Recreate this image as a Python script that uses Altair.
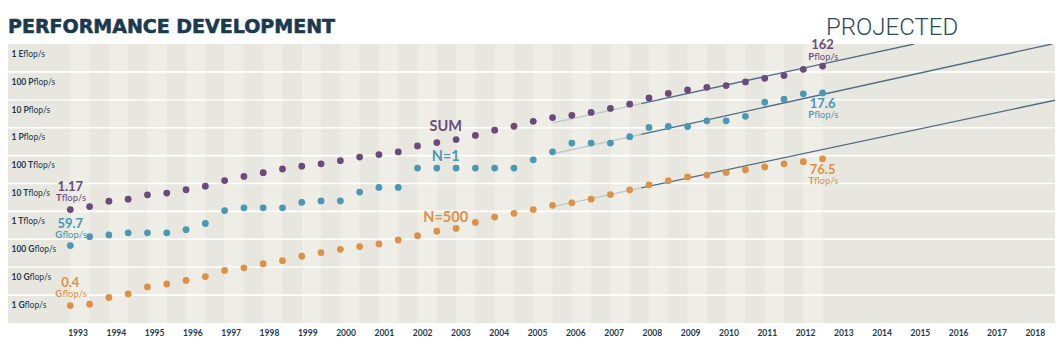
import math
import altair as alt
import pandas as pd

# ---------------- data (Gflop/s) ----------------
years = list(range(1993, 2013))
list_dates = [f"{y}-{m}" for y in years for m in ("06", "11")]

sum_gflops = [1167, 1493, 2317, 2732, 3936, 4554, 5973, 7996, 12770, 17910,
              24350, 33050, 41860, 50680, 65900, 88820, 108400, 134900, 222200, 293300,
              375200, 528400, 813100, 1127000, 1690000, 2300000, 2790000, 3530000, 4920000, 6970000,
              11700000, 16950000, 22600000, 27950000, 32430000, 43670000, 58880000, 74150000, 123400000, 162000000]
n1_gflops = [59.7, 124.5, 143.4, 170.4, 170.4, 170.4, 220.4, 368.2, 1068, 1338,
             1338, 1338, 2121, 2379, 2379, 4938, 7226, 7226, 35860, 35860,
             35860, 35860, 35860, 35860, 70720, 136800, 280600, 280600, 280600, 478200,
             1026000, 1105000, 1105000, 1759000, 1759000, 2566000, 8162000, 10510000, 16320000, 17590000]
n500_gflops = [0.42, 0.47, 0.82, 1.1, 1.96, 2.5, 3.35, 4.6, 7.67, 9.5,
               13.4, 17.1, 24.7, 33.1, 43.8, 55.1, 67.8, 94.3, 134.3, 195.8,
               245.1, 403.4, 624, 851, 1166, 1646, 2026, 2737, 4005, 5929,
               9000, 12640, 17090, 20050, 24670, 31120, 39090, 50940, 60820, 76500]

series_names = ["SUM", "N=1", "N=500"]
series_colors = ["#6b4a7b", "#4a98b4", "#dd9147"]

grid_values = [1, 10, 100, 1e3, 1e4, 1e5, 1e6, 1e7, 1e8]
axis_label_values = [1e9, 1e8, 1e7, 1e6, 1e5, 1e4, 1e3, 100, 10, 1]
axis_label_prefix = ["1 E", "100 P", "10 P", "1 P", "100 T", "10 T", "1 T", "100 G", "10 G", "1 G"]
axis_label_suffix = "flop/s"
year_labels = list(range(1993, 2019))

# projection lines: position in years, Gflop/s
proj_start_t = [2005.8, 2005.8, 2005.8]
proj_start_v = [1.48e6, 1.16e5, 1472]
proj_end_t = [2015.17, 2018.75, 2018.824]
proj_end_v = [1e9, 1e9, 9.66e6]
proj_break_t = 2008.1

# series name labels (annotation anchors)
name_t = [2003.03, 2003.03, 2003.03]
name_v = [1.09e6, 9.16e4, 594]

first_num = ["1.17", "59.7", "0.4"]
first_unit = ["Tflop/s", "Gflop/s", "Gflop/s"]
last_num = ["162", "17.6", "76.5"]
last_unit = ["Pflop/s", "Pflop/s", "Tflop/s"]

# ---------------- styling ----------------
NAVY = "#1a3a50"
BG_DARK = "#e7e7df"
BG_LIGHT = "#eeede6"
W, H = 1047, 279

def pos(d):
    y, m = d.split("-")
    return int(y) + (0.3 if m == "06" else 0.8)

LATO_REG = {'f': 0.30, 'l': 0.24, 'o': 0.56, 'p': 0.555, '/': 0.36, 's': 0.415}
LATO_BOLD = {' ': 0.193, 'E': 0.55, 'P': 0.6, 'T': 0.56, 'G': 0.72}
for c in "0123456789":
    LATO_BOLD[c] = 0.58

def tw(s, size, bold):
    tab = LATO_BOLD if bold else LATO_REG
    return sum(tab.get(c, 0.55) for c in s) * size

xscale = alt.Scale(domain=[1991.685, 2018.824], nice=False, zero=False)
yscale = alt.Scale(type="log", domain=[0.1, 1e9], nice=False)
cscale = alt.Scale(domain=series_names, range=series_colors)

ts = [pos(d) for d in list_dates]
rows = []
for name, vals in zip(series_names, [sum_gflops, n1_gflops, n500_gflops]):
    for t, v in zip(ts, vals):
        rows.append({"t": t, "v": v, "series": name})
df = pd.DataFrame(rows)

june = [pos(d) for d in list_dates if d.endswith("06")]
nov = [pos(d) for d in list_dates if d.endswith("11")]
stripes = pd.DataFrame({"t0": june, "t1": nov})

layers = []
layers.append(alt.Chart(stripes).mark_rect(color=BG_LIGHT).encode(
    x=alt.X("t0:Q", scale=xscale, axis=None), x2="t1:Q",
    y=alt.value(0), y2=alt.value(H)))

layers.append(alt.Chart(pd.DataFrame({"v": grid_values})).mark_rule(color="white", strokeWidth=1.6).encode(
    y=alt.Y("v:Q", scale=yscale, axis=None), x=alt.value(0), x2=alt.value(W)))

# projection lines
light_rows, dark_rows = [], []
for i, name in enumerate(series_names):
    t0, v0, t1, v1 = proj_start_t[i], proj_start_v[i], proj_end_t[i], proj_end_v[i]
    lb = math.log10(v0) + (math.log10(v1) - math.log10(v0)) * (proj_break_t - t0) / (t1 - t0)
    vb = 10 ** lb
    light_rows += [{"t": t0, "v": v0, "series": name}, {"t": proj_break_t, "v": vb, "series": name}]
    dark_rows += [{"t": proj_break_t, "v": vb, "series": name}, {"t": t1, "v": v1, "series": name}]
layers.append(alt.Chart(pd.DataFrame(light_rows)).mark_line(color="#b9c6d0", strokeWidth=1.2, clip=True).encode(
    x=alt.X("t:Q", scale=xscale, axis=None), y=alt.Y("v:Q", scale=yscale, axis=None), detail="series:N"))
layers.append(alt.Chart(pd.DataFrame(dark_rows)).mark_line(color="#506c87", strokeWidth=1.3, clip=True).encode(
    x=alt.X("t:Q", scale=xscale, axis=None), y=alt.Y("v:Q", scale=yscale, axis=None), detail="series:N"))

# points
layers.append(alt.Chart(df).mark_circle(size=46, opacity=1).encode(
    x=alt.X("t:Q", scale=xscale, axis=None),
    y=alt.Y("v:Q", scale=yscale, axis=None),
    color=alt.Color("series:N", scale=cscale, legend=None)))

# year labels below the plot
yr_df = pd.DataFrame({"t": [1993.5 + (y - 1993) * 0.9925 for y in year_labels],
                      "lab": [str(y) for y in year_labels]})
layers.append(alt.Chart(yr_df).mark_text(font="Lato", fontWeight="bold", fontSize=8.5, align="center",
                                        baseline="middle", color=NAVY).encode(
    x=alt.X("t:Q", scale=xscale, axis=None), y=alt.value(H + 9.5), text="lab:N"))

# series names
names_df = pd.DataFrame({"t": name_t, "v": name_v, "series": series_names})
layers.append(alt.Chart(names_df).mark_text(font="Lato", fontWeight="bold", fontSize=14.5,
                                           align="center", baseline="middle").encode(
    x=alt.X("t:Q", scale=xscale, axis=None), y=alt.Y("v:Q", scale=yscale, axis=None),
    text="series:N", color=alt.Color("series:N", scale=cscale, legend=None)))

# value labels
first_dy = [(-23, -12), (-22, -11), (-23, -11.5)]
last_dy = [(-21, -9.5), (11, 22), (11, 22)]
val_lists = [sum_gflops, n1_gflops, n500_gflops]
for i, name in enumerate(series_names):
    for idx, num, unit, (dyn, dyu) in [(0, first_num[i], first_unit[i], first_dy[i]),
                                       (-1, last_num[i], last_unit[i], last_dy[i])]:
        d = pd.DataFrame({"t": [ts[idx]], "v": [val_lists[i][idx]], "num": [num],
                          "p": [unit[0]], "s": [unit[1:]]})
        base = alt.Chart(d)
        enc = dict(x=alt.X("t:Q", scale=xscale, axis=None), y=alt.Y("v:Q", scale=yscale, axis=None))
        layers.append(base.mark_text(font="Lato", fontWeight="bold", fontSize=13, align="center",
                                     baseline="middle", color=series_colors[i], dy=dyn).encode(
            text="num:N", **enc))
        wp = tw(unit[0], 9.5, True)
        ws = tw(unit[1:], 9.5, False)
        total = wp + ws
        layers.append(base.mark_text(font="Lato", fontWeight="bold", fontSize=9.5, align="left",
                                     baseline="middle", color=series_colors[i], dy=dyu,
                                     dx=-total / 2).encode(text="p:N", **enc))
        layers.append(base.mark_text(font="Lato", fontWeight="normal", fontSize=9.5, align="left",
                                     baseline="middle", color=series_colors[i], dy=dyu,
                                     dx=-total / 2 + wp + 0.3).encode(text="s:N", **enc))

# y-axis labels inside the plot
lab_df = pd.DataFrame({"v": axis_label_values, "p": axis_label_prefix})
layers.append(alt.Chart(lab_df).mark_text(font="Lato", fontWeight="bold", fontSize=8.5, align="left",
                                         baseline="middle", color=NAVY, dy=9.7).encode(
    x=alt.value(3.5), y=alt.Y("v:Q", scale=yscale, axis=None), text="p:N"))
for v, p in zip(axis_label_values, axis_label_prefix):
    d = pd.DataFrame({"v": [v], "s": [axis_label_suffix]})
    layers.append(alt.Chart(d).mark_text(font="Lato", fontWeight="normal", fontSize=8.5, align="left",
                                         baseline="middle", color=NAVY, dy=9.7).encode(
        x=alt.value(3.5 + tw(p, 8.5, True) + 0.4), y=alt.Y("v:Q", scale=yscale, axis=None), text="s:N"))

# titles
layers.append(alt.Chart(pd.DataFrame({"s": ["PERFORMANCE DEVELOPMENT"]})).mark_text(
    font="DejaVu Sans", fontWeight="bold", fontSize=19, align="left", baseline="alphabetic",
    color=NAVY, stroke=NAVY, strokeWidth=0.6).encode(x=alt.value(0), y=alt.value(-11.5), text="s:N"))
layers.append(alt.Chart(pd.DataFrame({"s": ["PROJECTED"]})).mark_text(
    font="Roboto", fontWeight=300, fontSize=24, align="left", baseline="alphabetic",
    color="#2a4a62").encode(x=alt.value(818), y=alt.value(-9.5), text="s:N"))

chart = alt.layer(*layers).properties(
    width=W, height=H,
    padding={"left": 0, "top": 36, "right": 0, "bottom": 25},
    autosize=alt.AutoSizeParams(type="none"),
).configure_view(stroke=None, fill=BG_DARK)

chart.save("out.html", embed_options={"renderer": "svg", "actions": False})
